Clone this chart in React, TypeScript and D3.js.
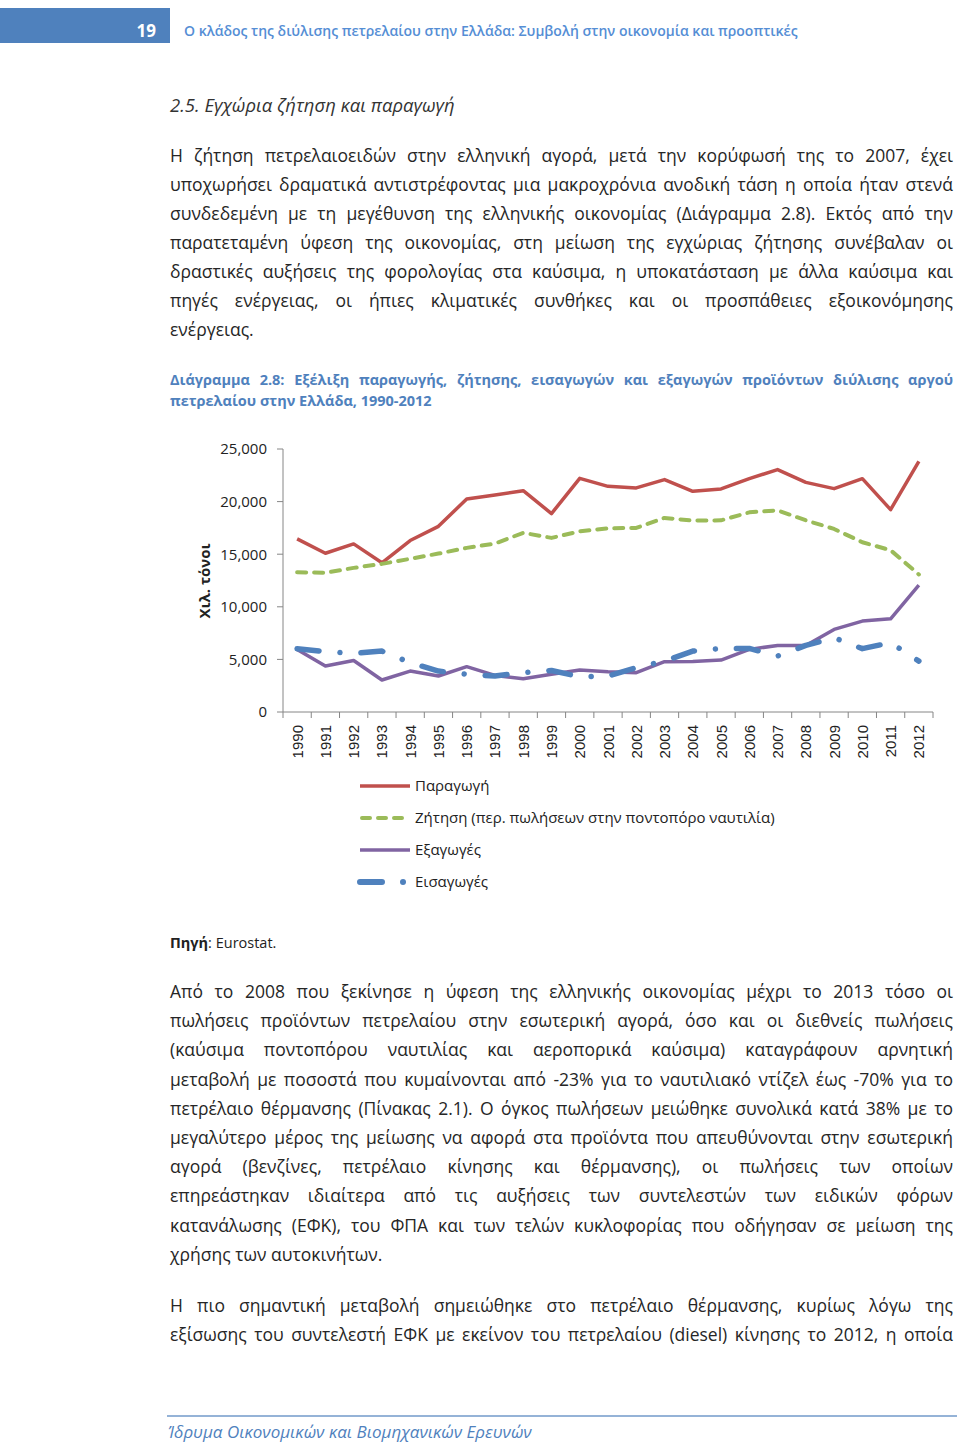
import React from "react";
import * as d3 from "d3";

const YEARS = [1990, 1991, 1992, 1993, 1994, 1995, 1996, 1997, 1998, 1999, 2000, 2001, 2002, 2003, 2004, 2005, 2006, 2007, 2008, 2009, 2010, 2011, 2012];
const PRODUCTION = [16460, 15090, 15980, 14180, 16300, 17650, 20250, 20630, 21040, 18860, 22210, 21450, 21300, 22090, 20980, 21200, 22180, 23040, 21830, 21230, 22180, 19240, 23820];
const DEMAND = [13290, 13230, 13700, 14080, 14560, 15060, 15600, 16010, 17030, 16550, 17180, 17460, 17500, 18450, 18190, 18220, 18980, 19170, 18220, 17400, 16140, 15380, 13070];
const EXPORTS = [5950, 4370, 4900, 3040, 3890, 3420, 4310, 3480, 3170, 3580, 3990, 3830, 3740, 4780, 4810, 4940, 5950, 6330, 6330, 7850, 8640, 8860, 12050];
const IMPORTS = [6020, 5730, 5570, 5790, 4690, 3890, 3580, 3420, 3740, 3950, 3360, 3420, 4210, 4840, 5790, 6040, 6040, 5320, 6330, 7060, 6020, 6590, 4840];
const Y_TICKS = [0, 5000, 10000, 15000, 20000, 25000];

const SERIES_NAMES = ["Παραγωγή", "Ζήτηση (περ. πωλήσεων στην ποντοπόρο ναυτιλία)", "Εξαγωγές", "Εισαγωγές"];

const P1 = [
  "Η ζήτηση πετρελαιοειδών στην ελληνική αγορά, μετά την κορύφωσή της το 2007, έχει",
  "υποχωρήσει δραματικά αντιστρέφοντας μια μακροχρόνια ανοδική τάση η οποία ήταν στενά",
  "συνδεδεμένη με τη μεγέθυνση της ελληνικής οικονομίας (Διάγραμμα 2.8). Εκτός από την",
  "παρατεταμένη ύφεση της οικονομίας, στη μείωση της εγχώριας ζήτησης συνέβαλαν οι",
  "δραστικές αυξήσεις της φορολογίας στα καύσιμα, η υποκατάσταση με άλλα καύσιμα και",
  "πηγές ενέργειας, οι ήπιες κλιματικές συνθήκες και οι προσπάθειες εξοικονόμησης",
  "ενέργειας.",
];
const CAPTION = [
  "Διάγραμμα 2.8: Εξέλιξη παραγωγής, ζήτησης, εισαγωγών και εξαγωγών προϊόντων διύλισης αργού",
  "πετρελαίου στην Ελλάδα, 1990-2012",
];
const P2 = [
  "Από το 2008 που ξεκίνησε η ύφεση της ελληνικής οικονομίας μέχρι το 2013 τόσο οι",
  "πωλήσεις προϊόντων πετρελαίου στην εσωτερική αγορά, όσο και οι διεθνείς πωλήσεις",
  "(καύσιμα ποντοπόρου ναυτιλίας και αεροπορικά καύσιμα) καταγράφουν αρνητική",
  "μεταβολή με ποσοστά που κυμαίνονται από -23% για το ναυτιλιακό ντίζελ έως -70% για το",
  "πετρέλαιο θέρμανσης (Πίνακας 2.1). Ο όγκος πωλήσεων μειώθηκε συνολικά κατά 38% με το",
  "μεγαλύτερο μέρος της μείωσης να αφορά στα προϊόντα που απευθύνονται στην εσωτερική",
  "αγορά (βενζίνες, πετρέλαιο κίνησης και θέρμανσης), οι πωλήσεις των οποίων",
  "επηρεάστηκαν ιδιαίτερα από τις αυξήσεις των συντελεστών των ειδικών φόρων",
  "κατανάλωσης (ΕΦΚ), του ΦΠΑ και των τελών κυκλοφορίας που οδήγησαν σε μείωση της",
  "χρήσης των αυτοκινήτων.",
];
const P3 = [
  "Η πιο σημαντική μεταβολή σημειώθηκε στο πετρέλαιο θέρμανσης, κυρίως λόγω της",
  "εξίσωσης του συντελεστή ΕΦΚ με εκείνον του πετρελαίου (diesel) κίνησης το 2012, η οποία",
];

const FONT = '"Open Sans", "Noto Sans", sans-serif';
const TEXT_COLOR = "#262626";
const BLUE_TEXT = "#4F81BD";

let canvasCtx: CanvasRenderingContext2D | null = null;
function measure(text: string, font: string): number {
  if (!canvasCtx) {
    const c = document.createElement("canvas");
    canvasCtx = c.getContext("2d");
  }
  canvasCtx!.font = font;
  return canvasCtx!.measureText(text).width;
}

type LineProps = {
  text: string;
  x: number;
  y: number;
  width: number;
  size: number;
  weight?: string;
  style?: string;
  fill: string;
  justify: boolean;
  keyp: string;
};

function JustLine({ text, x, y, width, size, weight = "normal", style = "normal", fill, justify, keyp }: LineProps) {
  const font = `${style} ${weight} ${size}px ${FONT}`;
  const words = text.split(" ");
  const widths = words.map((w) => measure(w, font));
  const spaceW = measure(" ", font);
  const sum = d3.sum(widths);
  const n = words.length;
  let gap = spaceW;
  let scale = 1;
  const minGap = size * 0.22;
  if (justify && n > 1) {
    gap = (width - sum) / (n - 1);
    if (gap < minGap) {
      gap = minGap;
      scale = (width - minGap * (n - 1)) / sum;
    }
  } else if (sum + spaceW * (n - 1) > width) {
    scale = (width - spaceW * (n - 1)) / sum;
  }
  let cx = x;
  const els = words.map((w, i) => {
    const wx = cx;
    const ww = widths[i] * scale;
    cx += ww + gap;
    return (
      <text
        key={keyp + i}
        x={wx}
        y={y}
        fontFamily={FONT}
        fontSize={size}
        fontWeight={weight}
        fontStyle={style}
        fill={fill}
        {...(scale !== 1 ? { textLength: ww, lengthAdjust: "spacingAndGlyphs" } : {})}
      >
        {w}
      </text>
    );
  });
  return <g>{els}</g>;
}

function Paragraph({ lines, x, y0, lh, width, size, weight, fill, keyp, lastJustified = false }: any) {
  return (
    <g>
      {lines.map((t: string, i: number) => (
        <JustLine
          key={keyp + i}
          keyp={keyp + i + "_"}
          text={t}
          x={x}
          y={y0 + i * lh}
          width={width}
          size={size}
          weight={weight}
          fill={fill}
          justify={i < lines.length - 1 || lastJustified}
        />
      ))}
    </g>
  );
}

export default function App() {
  const W = 960;
  const H = 1443;
  const left = 283;
  const right = 933;
  const top = 449;
  const bottom = 712;

  const x = d3.scaleBand<number>().domain(YEARS).range([left, right]).paddingInner(0).paddingOuter(0);
  const cx = (yr: number) => (x(yr) as number) + x.bandwidth() / 2;
  const y = d3.scaleLinear().domain([0, 25000]).range([bottom, top]);

  const line = (vals: number[]) =>
    d3
      .line<number>()
      .x((_, i) => cx(YEARS[i]))
      .y((v) => y(v))(vals) as string;

  const axisColor = "#868686";

  const series = [
    { name: SERIES_NAMES[0], vals: PRODUCTION, color: "#C0504D", width: 3.5, dash: undefined as string | undefined, cap: "butt" },
    { name: SERIES_NAMES[1], vals: DEMAND, color: "#9BBB59", width: 4, dash: "9 8", cap: "round" },
    { name: SERIES_NAMES[2], vals: EXPORTS, color: "#8064A2", width: 3.5, dash: undefined, cap: "butt" },
    { name: SERIES_NAMES[3], vals: IMPORTS, color: "#4F81BD", width: 5.5, dash: "22 21 0.01 21", cap: "round" },
  ];

  const legendY = [786, 818, 850, 882];
  const bodySize = 17.5;

  return (
    <svg width={W} height={H} style={{ position: "absolute", left: 0, top: 0, background: "#fff" }}>
      <rect x={0} y={0} width={W} height={H} fill="#fff" />
      {/* Header */}
      <rect x={0} y={8} width={170} height={35} fill="#4F81BD" />
      <text x={156} y={37} textAnchor="end" fontFamily={FONT} fontWeight="bold" fontSize={17} fill="#fff">19</text>
      <text x={184} y={36} fontFamily={FONT} fontWeight="600" fontSize={14} fill="#558ED5">
        Ο κλάδος της διύλισης πετρελαίου στην Ελλάδα: Συμβολή στην οικονομία και προοπτικές
      </text>

      {/* Section heading */}
      <text x={170} y={112} fontFamily={FONT} fontStyle="italic" fontSize={18.5} fill="#333">
        2.5. Εγχώρια ζήτηση και παραγωγή
      </text>

      <Paragraph lines={P1} x={170} y0={162} lh={29} width={783} size={bodySize} fill={TEXT_COLOR} keyp="p1" />

      <Paragraph lines={CAPTION} x={170} y0={385} lh={20.5} width={783} size={14.5} weight="bold" fill={BLUE_TEXT} keyp="cap" />

      {/* Chart */}
      <g>
        <line x1={left} x2={left} y1={top} y2={bottom} stroke={axisColor} strokeWidth={1} />
        <line x1={left} x2={right} y1={bottom} y2={bottom} stroke={axisColor} strokeWidth={1} />
        {Y_TICKS.map((t) => (
          <g key={"yt" + t}>
            <line x1={left - 6} x2={left} y1={y(t)} y2={y(t)} stroke={axisColor} />
            <text x={267} y={y(t)} dy="0.36em" textAnchor="end" fontFamily={FONT} fontSize={15} fill="#222">
              {d3.format(",")(t)}
            </text>
          </g>
        ))}
        {YEARS.map((yr) => (
          <line key={"xt" + yr} x1={x(yr) as number} x2={x(yr) as number} y1={bottom} y2={bottom + 6} stroke={axisColor} />
        ))}
        <line x1={right} x2={right} y1={bottom} y2={bottom + 6} stroke={axisColor} />
        {YEARS.map((yr) => (
          <text
            key={"xl" + yr}
            transform={`translate(${cx(yr) + 5.5},${bottom + 13}) rotate(-90)`}
            textAnchor="end"
            fontFamily='"Liberation Sans", Arial, sans-serif'
            fontSize={15}
            fill="#222"
          >
            {yr}
          </text>
        ))}
        <text
          transform={`translate(210,581) rotate(-90)`}
          textAnchor="middle"
          fontFamily={FONT}
          fontWeight="bold"
          fontSize={15}
          fill="#222"
        >
          Χιλ. τόνοι
        </text>
        {series.map((s) => (
          <path
            key={"s" + s.name}
            d={line(s.vals)}
            fill="none"
            stroke={s.color}
            strokeWidth={s.width}
            strokeDasharray={s.dash}
            strokeLinecap={s.cap as any}
            strokeLinejoin="round"
          />
        ))}
        {/* Legend */}
        {series.map((s, i) => (
          <g key={"lg" + i}>
            <line
              x1={i === 1 ? 362 : 360}
              x2={i === 3 ? 404 : i === 1 ? 406 : 410}
              y1={legendY[i]}
              y2={legendY[i]}
              stroke={s.color}
              strokeWidth={i === 3 ? 6 : s.width}
              strokeDasharray={i === 1 ? "8 8" : s.dash}
              strokeLinecap={s.cap as any}
            />
            <text x={415} y={legendY[i]} dy="0.36em" fontFamily={FONT} fontSize={15} fill="#222">
              {s.name}
            </text>
          </g>
        ))}
      </g>

      {/* Source */}
      <text x={170} y={948} fontFamily={FONT} fontSize={14.5} fill="#222">
        <tspan fontWeight="bold">Πηγή</tspan>
        <tspan>: Eurostat.</tspan>
      </text>

      <Paragraph lines={P2} x={170} y0={998} lh={29.2} width={783} size={bodySize} fill={TEXT_COLOR} keyp="p2" />
      <Paragraph lines={P3} x={170} y0={1312} lh={29} width={783} size={bodySize} fill={TEXT_COLOR} keyp="p3" lastJustified={true} />

      {/* Footer */}
      <line x1={167} x2={957} y1={1416} y2={1416} stroke="#95B3D7" strokeWidth={2} />
      <text x={168} y={1438} fontFamily={FONT} fontStyle="italic" fontSize={17} fill="#4F81BD">
        Ίδρυμα Οικονομικών και Βιομηχανικών Ερευνών
      </text>
    </svg>
  );
}
